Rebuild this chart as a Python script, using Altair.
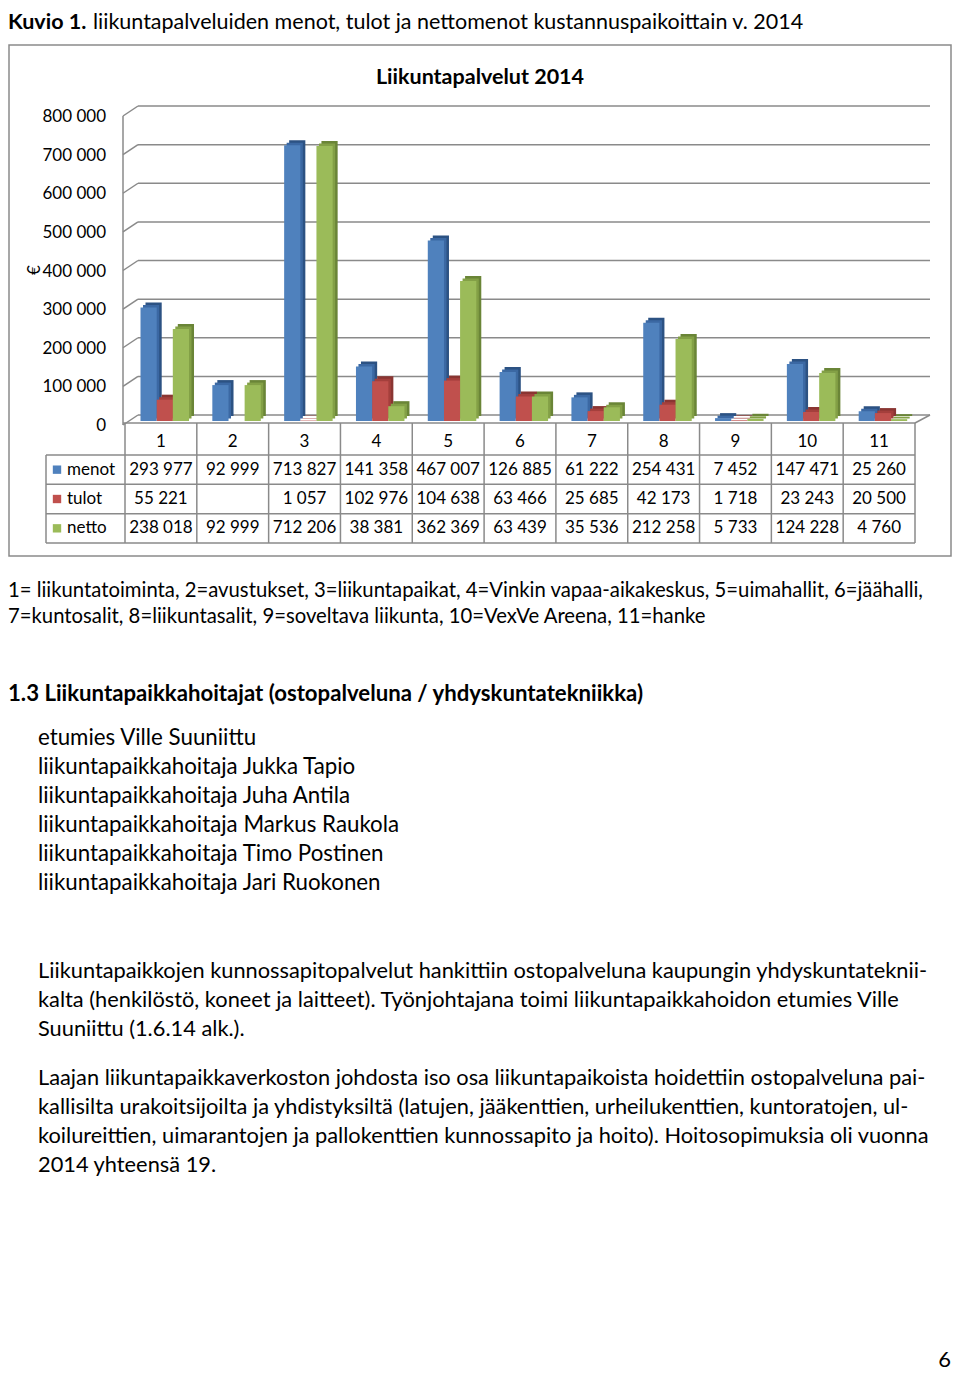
import altair as alt
import pandas as pd

# ---------------- data ----------------
categories = ["1", "2", "3", "4", "5", "6", "7", "8", "9", "10", "11"]
series_names = ["menot", "tulot", "netto"]
menot = [293977, 92999, 713827, 141358, 467007, 126885, 61222, 254431, 7452, 147471, 25260]
tulot = [55221, None, 1057, 102976, 104638, 63466, 25685, 42173, 1718, 23243, 20500]
netto = [238018, 92999, 712206, 38381, 362369, 63439, 35536, 212258, 5733, 124228, 4760]
y_ticks = [0, 100000, 200000, 300000, 400000, 500000, 600000, 700000, 800000]
y_tick_labels = ["0", "100 000", "200 000", "300 000", "400 000", "500 000",
                 "600 000", "700 000", "800 000"]

title_bold = "Kuvio 1."
title_rest = "liikuntapalveluiden menot, tulot ja nettomenot kustannuspaikoittain v. 2014"
chart_title = "Liikuntapalvelut 2014"
axis_title = "€"
caption_lines = [
    "1= liikuntatoiminta, 2=avustukset, 3=liikuntapaikat, 4=Vinkin vapaa-aikakeskus, 5=uimahallit, 6=jäähalli,",
    "7=kuntosalit, 8=liikuntasalit, 9=soveltava liikunta, 10=VexVe Areena, 11=hanke",
]
heading = "1.3 Liikuntapaikkahoitajat (ostopalveluna / yhdyskuntatekniikka)"
staff_lines = [
    "etumies Ville Suuniittu",
    "liikuntapaikkahoitaja Jukka Tapio",
    "liikuntapaikkahoitaja Juha Antila",
    "liikuntapaikkahoitaja Markus Raukola",
    "liikuntapaikkahoitaja Timo Postinen",
    "liikuntapaikkahoitaja Jari Ruokonen",
]
para1 = [
    "Liikuntapaikkojen kunnossapitopalvelut hankittiin ostopalveluna kaupungin yhdyskuntateknii-",
    "kalta (henkilöstö, koneet ja laitteet). Työnjohtajana toimi liikuntapaikkahoidon etumies Ville",
    "Suuniittu (1.6.14 alk.).",
]
para2 = [
    "Laajan liikuntapaikkaverkoston johdosta iso osa liikuntapaikoista hoidettiin ostopalveluna pai-",
    "kallisilta urakoitsijoilta ja yhdistyksiltä (latujen, jääkenttien, urheilukenttien, kuntoratojen, ul-",
    "koilureittien, uimarantojen ja pallokenttien kunnossapito ja hoito). Hoitosopimuksia oli vuonna",
    "2014 yhteensä 19.",
]
page_number = "6"


def fmt(v):
    return "" if v is None else f"{v:,}".replace(",", " ")


rows = []
for s, vals in zip(series_names, [menot, tulot, netto]):
    for c, v in zip(categories, vals):
        rows.append({"cat": c, "series": s, "value": v, "label": fmt(v)})
df = pd.DataFrame(rows)
bars_df = df.dropna(subset=["value"])
ticks_df = pd.DataFrame({"v": y_ticks, "lab": y_tick_labels})
cats_df = pd.DataFrame({"cat": categories})
series_df = pd.DataFrame({"series": series_names})

# ---------------- style / layout ----------------
O = 8  # page margin
FONT = "Lato"
GRID = "#8a8a8a"
TXT = "#000000"
front_col = {"menot": "#4F81BD", "tulot": "#C0504D", "netto": "#9BBB59"}
top_col = {"menot": "#3B68A3", "tulot": "#A43F3C", "netto": "#83A046"}
side_col = {"menot": "#2C5283", "tulot": "#8A3532", "netto": "#6A8537"}
bar_w = 16.2
bar_dx = {"menot": -12.3, "tulot": 3.9, "netto": 20.0}
DEPTH = 5

xsc = alt.Scale(type="band", domain=categories, range=[125 - O, 915 - O],
                paddingInner=0, paddingOuter=0)
ysc = alt.Scale(type="linear", domain=[0, 800000], range=[421 - O, 112 - O],
                zero=True, nice=False)
rowsc = alt.Scale(type="band", domain=series_names, range=[455 - O, 543 - O],
                  paddingInner=0, paddingOuter=0)

X = lambda: alt.X("cat:N", scale=xsc, axis=None)
Yv = lambda f="value:Q": alt.Y(f, scale=ysc, axis=None)

layers = []

# chart area border
one = pd.DataFrame({"a": [0]})
layers.append(alt.Chart(one).mark_rect(fillOpacity=0, stroke=GRID, strokeWidth=1.5).encode(
    x=alt.value(1), x2=alt.value(943), y=alt.value(45 - O), y2=alt.value(556 - O)))

# back-wall gridlines
layers.append(alt.Chart(ticks_df).mark_rule(yOffset=-6, color=GRID, strokeWidth=1.5).encode(
    y=Yv("v:Q"), x=alt.value(138 - O), x2=alt.value(930 - O)))
# left-wall slanted gridlines
layers.append(alt.Chart(ticks_df).mark_rule(yOffset=4, y2Offset=-6, color=GRID, strokeWidth=1.5).encode(
    y=Yv("v:Q"), y2=alt.Y2("v:Q"), x=alt.value(123 - O), x2=alt.value(138 - O)))
# left-wall front vertical edge
wall_df = pd.DataFrame({"lo": [y_ticks[0]], "hi": [y_ticks[-1]]})
layers.append(alt.Chart(wall_df).mark_rule(yOffset=4, y2Offset=4, color=GRID, strokeWidth=1.5).encode(
    y=Yv("lo:Q"), y2=alt.Y2("hi:Q"), x=alt.value(123 - O)))
# floor front edge + right slant
floor_df = pd.DataFrame({"v": [y_ticks[0]]})
layers.append(alt.Chart(floor_df).mark_rule(yOffset=2, color=GRID, strokeWidth=1.5).encode(
    y=Yv("v:Q"), x=alt.value(123 - O), x2=alt.value(915 - O)))
layers.append(alt.Chart(floor_df).mark_rule(yOffset=2, y2Offset=-6, color=GRID, strokeWidth=1.5).encode(
    y=Yv("v:Q"), y2=alt.Y2("v:Q"), x=alt.value(915 - O), x2=alt.value(930 - O)))

# bars (pseudo 3D: darker depth blocks behind the front face)
for s in series_names:
    base = alt.Chart(bars_df).transform_filter(alt.datum.series == s)
    layers.append(base.mark_bar(width=bar_w, xOffset=bar_dx[s] + DEPTH, yOffset=-DEPTH,
                                color=side_col[s]).encode(x=X(), y=Yv()))
    layers.append(base.mark_bar(width=bar_w, xOffset=bar_dx[s] + DEPTH / 2, yOffset=-DEPTH / 2,
                                color=top_col[s]).encode(x=X(), y=Yv()))
    layers.append(base.mark_bar(width=bar_w, xOffset=bar_dx[s],
                                color=front_col[s]).encode(x=X(), y=Yv()))

# y tick labels
layers.append(alt.Chart(ticks_df).mark_text(align="right", baseline="middle", dy=5, font=FONT,
                                            fontSize=17, color=TXT).encode(
    y=Yv("v:Q"), x=alt.value(106 - O), text="lab:N"))

# data table: category header
layers.append(alt.Chart(cats_df).mark_text(baseline="middle", font=FONT, fontSize=17, color=TXT).encode(
    x=X(), y=alt.value(442 - O), text="cat:N"))
# data table: values
layers.append(alt.Chart(df).mark_text(baseline="middle", font=FONT, fontSize=17, color=TXT).encode(
    x=X(), y=alt.Y("series:N", scale=rowsc, axis=None), text="label:N"))
# legend keys
layers.append(alt.Chart(series_df).mark_square(size=70, opacity=1).encode(
    x=alt.value(57 - O), y=alt.Y("series:N", scale=rowsc, axis=None),
    color=alt.Color("series:N", scale=alt.Scale(domain=series_names,
                                                 range=[front_col[s] for s in series_names]),
                    legend=None)))
layers.append(alt.Chart(series_df).mark_text(align="left", baseline="middle", font=FONT, fontSize=17,
                                             color=TXT).encode(
    x=alt.value(67 - O), y=alt.Y("series:N", scale=rowsc, axis=None), text="series:N"))
# table grid: vertical lines at category boundaries
layers.append(alt.Chart(cats_df).mark_rule(color=GRID, strokeWidth=1.5).encode(
    x=alt.X("cat:N", scale=xsc, axis=None, bandPosition=0), y=alt.value(423 - O), y2=alt.value(543 - O)))
layers.append(alt.Chart(cats_df.tail(1)).mark_rule(color=GRID, strokeWidth=1.5).encode(
    x=alt.X("cat:N", scale=xsc, axis=None, bandPosition=1), y=alt.value(423 - O), y2=alt.value(543 - O)))
layers.append(alt.Chart(one).mark_rule(color=GRID, strokeWidth=1.5).encode(
    x=alt.value(46 - O), y=alt.value(455 - O), y2=alt.value(543 - O)))
# table grid: horizontal lines at row boundaries
layers.append(alt.Chart(series_df).mark_rule(color=GRID, strokeWidth=1.5).encode(
    y=alt.Y("series:N", scale=rowsc, axis=None, bandPosition=0), x=alt.value(46 - O), x2=alt.value(915 - O)))
layers.append(alt.Chart(series_df.tail(1)).mark_rule(color=GRID, strokeWidth=1.5).encode(
    y=alt.Y("series:N", scale=rowsc, axis=None, bandPosition=1), x=alt.value(46 - O), x2=alt.value(915 - O)))


def text_line(t, x, y, size, weight="normal", align="left", angle=0):
    kw = dict(align=align, baseline="middle", font=FONT, fontSize=size, fontWeight=weight, color=TXT)
    if angle:
        kw["angle"] = angle
    return alt.Chart(pd.DataFrame({"t": [t]})).mark_text(**kw).encode(
        x=alt.value(x), y=alt.value(y), text="t:N")


# chart title and axis title
layers.append(text_line(chart_title, 480 - O, 78 - O, 21.5, "bold", "center"))
layers.append(text_line(axis_title, 35 - O, 270 - O, 17, "normal", "center", 270))

# page texts
layers.append(text_line(title_bold, 0, 15, 21.5, "bold"))
layers.append(text_line(title_rest, 85, 15, 21.5))
for i, t in enumerate(caption_lines):
    layers.append(text_line(t, 0, 591 - O + 26 * i, 20.3))
layers.append(text_line(heading, 0, 694 - O, 22.2, "bold"))
for i, t in enumerate(staff_lines):
    layers.append(text_line(t, 38 - O, 738 - O + 29 * i, 22.3))
for i, t in enumerate(para1):
    layers.append(text_line(t, 38 - O, 971 - O + 29 * i, 21.8))
for i, t in enumerate(para2):
    layers.append(text_line(t, 38 - O, 1078 - O + 29 * i, 21.8))
layers.append(text_line(page_number, 943, 1352, 22, "normal", "right"))

chart = alt.layer(*layers).resolve_scale(x="independent", y="independent", color="independent").properties(
    width=944, height=1363, padding=0, autosize=alt.AutoSizeParams(type="none"),
    background="white",
).configure_view(stroke=None)

chart.save("out.html", embed_options={"renderer": "svg", "actions": False})
